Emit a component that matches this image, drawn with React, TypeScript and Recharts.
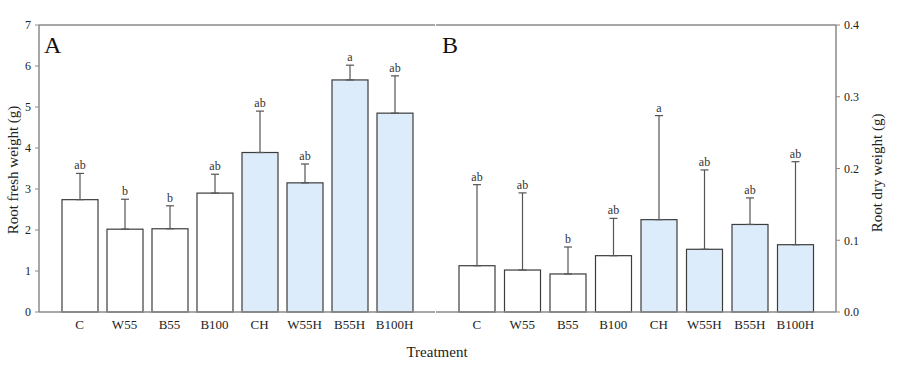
import React from "react";
import { BarChart, Bar, XAxis, YAxis, ErrorBar, ReferenceLine } from "recharts";

const categories = ["C", "W55", "B55", "B100", "CH", "W55H", "B55H", "B100H"];

// Panel A: root fresh weight (g)
const freshMean = [2.74, 2.02, 2.03, 2.9, 3.89, 3.15, 5.66, 4.85];
const freshErr = [0.64, 0.73, 0.56, 0.46, 1.01, 0.46, 0.36, 0.91];
const freshSig = ["ab", "b", "b", "ab", "ab", "ab", "a", "ab"];
const freshTicks = [0, 1, 2, 3, 4, 5, 6, 7];

// Panel B: root dry weight (g)
const dryMean = [0.0645, 0.0585, 0.053, 0.0785, 0.1287, 0.0874, 0.122, 0.0938];
const dryErr = [0.113, 0.1075, 0.0376, 0.052, 0.145, 0.1106, 0.037, 0.1157];
const drySig = ["ab", "ab", "b", "ab", "a", "ab", "ab", "ab"];
const dryTicks = [0, 0.1, 0.2, 0.3, 0.4];

const FONT = "'Liberation Serif', 'Times New Roman', serif";
const AXIS = "#8a8a8a";
const TEXT = "#222";

const freshData = categories.map((c, i) => ({ name: c, value: freshMean[i], err: freshErr[i], sig: freshSig[i] }));
const dryData = categories.map((c, i) => ({ name: c, value: dryMean[i], err: dryErr[i], sig: drySig[i] }));

// bar rect + significance letter above the error cap (scale taken from the bar itself)
function SigBar(props: any) {
  const { x, y, width, height, payload } = props;
  const heated = payload.name.endsWith("H");
  const pxPerUnit = payload.value ? height / payload.value : 0;
  const capY = y - payload.err * pxPerUnit;
  return (
    <g>
      <rect x={x} y={y} width={width} height={height} fill={heated ? "#ddecfb" : "#ffffff"} stroke="#3c3c3c" strokeWidth={1.2} />
      <text x={x + width / 2} y={capY - 4} textAnchor="middle" fontSize={12} fontFamily={FONT} fill="#333">
        {payload.sig}
      </text>
    </g>
  );
}

const xTick = { fontSize: 13, fontFamily: FONT, fill: TEXT };
const yTick = { fontSize: 12, fontFamily: FONT, fill: TEXT };

export default function App() {
  return (
    <div style={{ position: "absolute", left: 0, top: 0, width: 897, height: 365, background: "#fff" }}>
      <div style={{ position: "absolute", left: 0, top: 0 }}>
        <BarChart width={436} height={365} data={freshData} margin={{ top: 25, right: 1, bottom: 23, left: 0 }}>
          <XAxis
            dataKey="name"
            padding={{ left: 18, right: 18 }}
            axisLine={{ stroke: AXIS, strokeWidth: 1.5 }}
            tickLine={false}
            tick={xTick}
            interval={0}
            height={30}
          />
          <YAxis
            width={39}
            domain={[0, 7]}
            ticks={freshTicks}
            tickSize={4}
            tickMargin={4}
            axisLine={{ stroke: AXIS, strokeWidth: 1.5 }}
            tickLine={{ stroke: AXIS }}
            tick={yTick}
          />
          <ReferenceLine y={7} stroke={AXIS} strokeWidth={1.5} />
          <Bar dataKey="value" barSize={36} shape={<SigBar />} isAnimationActive={false}>
            <ErrorBar dataKey={(d: any) => [0, d.err]} width={4} stroke="#555" strokeWidth={1.2} direction="y" />
          </Bar>
        </BarChart>
      </div>
      <div style={{ position: "absolute", left: 436, top: 0 }}>
        <BarChart width={461} height={365} data={dryData} margin={{ top: 25, right: 0, bottom: 23, left: 0 }}>
          <XAxis
            dataKey="name"
            padding={{ left: 18, right: 18 }}
            axisLine={{ stroke: AXIS, strokeWidth: 1.5 }}
            tickLine={false}
            tick={xTick}
            interval={0}
            height={30}
          />
          <YAxis yAxisId="div" orientation="left" width={0} tick={false} tickLine={false} axisLine={{ stroke: AXIS, strokeWidth: 1.5 }} />
          <YAxis
            yAxisId="r"
            orientation="right"
            width={61}
            domain={[0, 0.4]}
            ticks={dryTicks}
            tickFormatter={(v: number) => v.toFixed(1)}
            tickSize={4}
            tickMargin={4}
            axisLine={{ stroke: AXIS, strokeWidth: 1.5 }}
            tickLine={{ stroke: AXIS }}
            tick={yTick}
          />
          <ReferenceLine yAxisId="r" y={0.4} stroke={AXIS} strokeWidth={1.5} />
          <Bar yAxisId="r" dataKey="value" barSize={36} shape={<SigBar />} isAnimationActive={false}>
            <ErrorBar dataKey={(d: any) => [0, d.err]} width={4} stroke="#555" strokeWidth={1.2} direction="y" />
          </Bar>
        </BarChart>
      </div>
      {/* titles and panel letters */}
      <svg width={897} height={365} style={{ position: "absolute", left: 0, top: 0, pointerEvents: "none" }}>
        <text x={44} y={53} fontSize={24} fontFamily={FONT} fill="#111">A</text>
        <text x={442} y={53} fontSize={24} fontFamily={FONT} fill="#111">B</text>
        <text transform="translate(18,170) rotate(-90)" textAnchor="middle" fontSize={15} fontFamily={FONT} fill={TEXT}>
          Root fresh weight (g)
        </text>
        <text transform="translate(882,173) rotate(-90)" textAnchor="middle" fontSize={15} fontFamily={FONT} fill={TEXT}>
          Root dry weight (g)
        </text>
        <text x={437} y={357} textAnchor="middle" fontSize={15} fontFamily={FONT} fill={TEXT}>
          Treatment
        </text>
      </svg>
    </div>
  );
}
